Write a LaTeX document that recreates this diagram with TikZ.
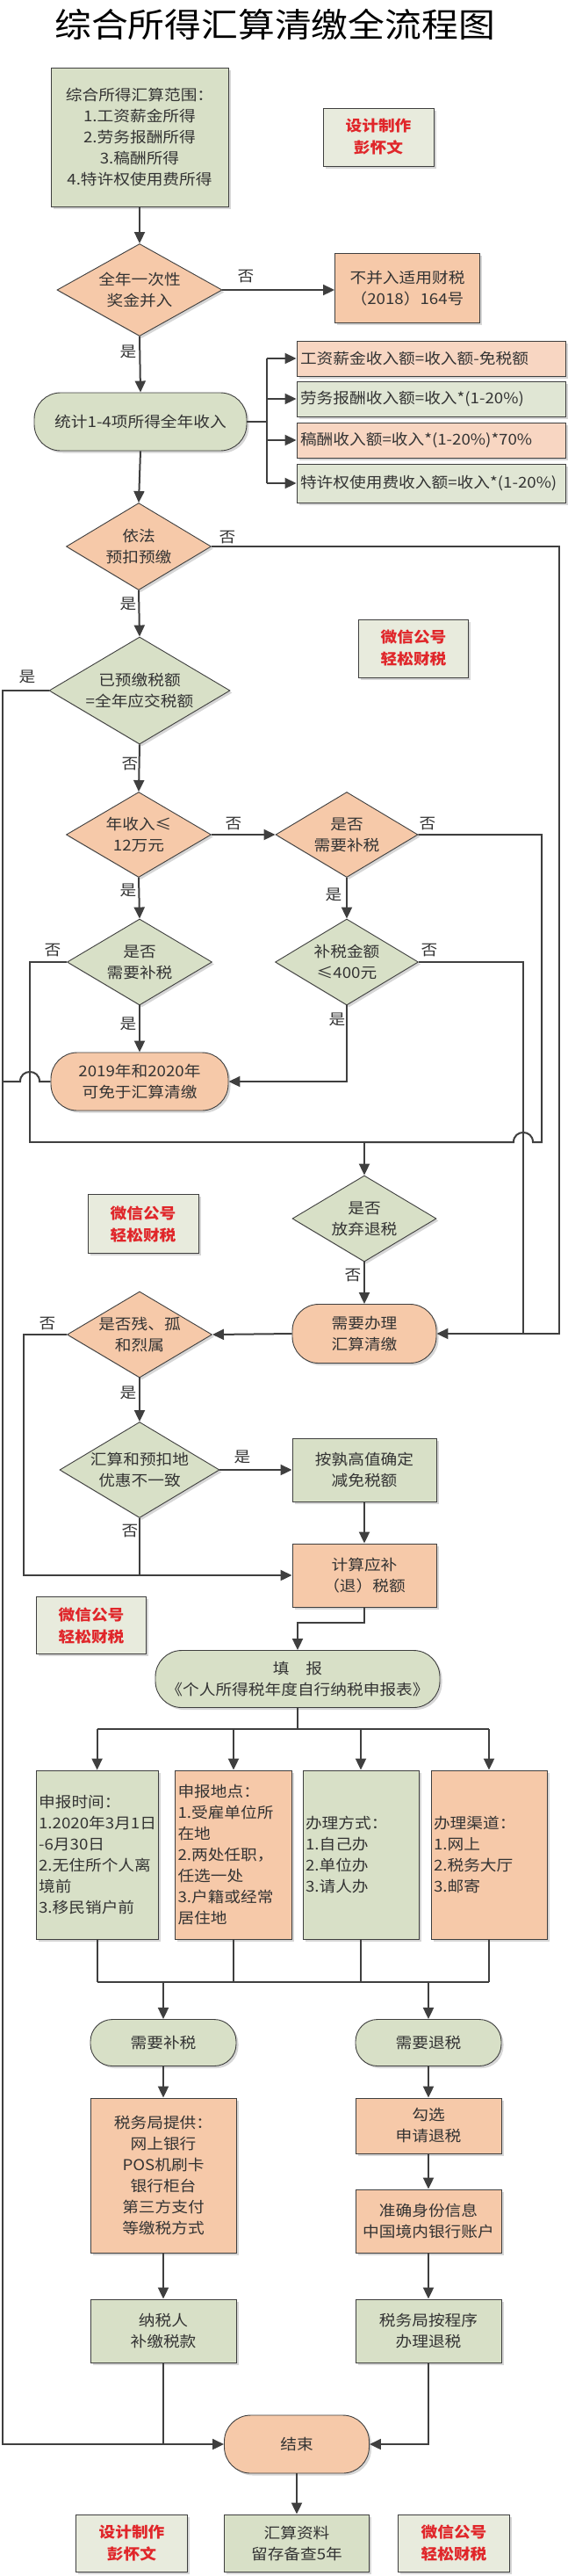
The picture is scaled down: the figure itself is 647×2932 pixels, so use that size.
\documentclass[tikz,border=0pt]{standalone}
\usepackage{fontspec}
\setmainfont{Noto Sans CJK SC}[FakeStretch=1.1]
\usetikzlibrary{shapes.geometric,arrows.meta,shadows}
\definecolor{lc}{HTML}{3F3F3F}
\definecolor{tc}{HTML}{333333}
\definecolor{orf}{HTML}{F6C9A9}
\definecolor{orf2}{HTML}{F8D6C2}
\definecolor{grf}{HTML}{D8E0C7}
\definecolor{grf2}{HTML}{E0E6D4}
\definecolor{wmf}{HTML}{E8EBDD}
\definecolor{wred}{HTML}{E0262A}
\newcommand\fsz{\fontsize{17}{24}\selectfont}
\newcommand\wmfnt{\fontsize{17}{25}\selectfont\bfseries}
\begin{document}
\begin{tikzpicture}[x=1pt,y=-1pt,
  base/.style={draw=lc, line width=0.9pt, inner sep=0pt, align=center, text=tc, font=\fsz},
  sh/.style={drop shadow={shadow xshift=2.5pt,shadow yshift=-2.5pt,opacity=0.16,fill=black}},
  gbox/.style={base, sh, fill=grf},
  obox/.style={base, sh, fill=orf},
  fbox/.style={base, sh, minimum width=306pt, text width=298pt, align=left},
  lbox/.style={base, sh, minimum height=192pt, align=left},
  dia/.style={diamond, draw=lc, line width=0.9pt, inner sep=0pt, sh},
  wm/.style={base, sh, fill=wmf, text=wred, font=\wmfnt},
  lab/.style={font=\fsz, text=tc, inner sep=0pt, align=center},
  ln/.style={draw=lc, line width=2pt},
  conn/.style={ln, -{Triangle[length=13pt,width=12pt]}}]
\useasboundingbox (0,0) rectangle (647,2932);
\fill[white] (0,0) rectangle (647,2932);

% title
\node[font=\fontsize{38}{44}\selectfont, text=black, inner sep=0pt] (title) at (313,28) {综合所得汇算清缴全流程图};

% top
\node[gbox, minimum width=202pt, minimum height=158pt] (range) at (159,156) {综合所得汇算范围：\\1.工资薪金所得\\2.劳务报酬所得\\3.稿酬所得\\4.特许权使用费所得};
\node[wm, minimum width=126pt, minimum height=66pt] (wm1) at (431,156) {设计制作\\彭怀文};

\node[dia, fill=orf, minimum width=188pt, minimum height=105pt] (d1) at (159,330) {};
\node[lab] (d1t) at (d1) {全年一次性\\奖金并入};
\node[obox, minimum width=165pt, minimum height=79pt] (nb) at (464,328) {不并入适用财税\\（2018）164号};

\node[gbox, rounded corners=30pt, minimum width=242pt, minimum height=66pt] (stat) at (160,480) {统计1-4项所得全年收入};

\node[fbox, fill=orf2, minimum height=40pt] (f1) at (491,408) {工资薪金收入额=收入额-免税额};
\node[fbox, fill=grf2, minimum height=40pt] (f2) at (491,454) {劳务报酬收入额=收入*(1-20\%)};
\node[fbox, fill=orf2, minimum height=40pt] (f3) at (491,501) {稿酬收入额=收入*(1-20\%)*70\%};
\node[fbox, fill=grf2, minimum height=44pt] (f4) at (491,550) {特许权使用费收入额=收入*(1-20\%)};

\node[dia, fill=orf, minimum width=165pt, minimum height=99pt] (d2) at (158,622) {};
\node[lab] (d2t) at (d2) {依法\\预扣预缴};
\node[wm, minimum width=125pt, minimum height=66pt] (wm2) at (471,738) {微信公号\\轻松财税};

\node[dia, fill=grf, minimum width=206pt, minimum height=122pt] (d3) at (159,786) {};
\node[lab] (d3t) at (d3) {已预缴税额\\=全年应交税额};

\node[dia, fill=orf, minimum width=165pt, minimum height=97pt] (d4) at (158,950) {};
\node[lab] (d4t) at (d4) {年收入≤\\12万元};
\node[dia, fill=orf, minimum width=162pt, minimum height=97pt] (d5) at (395,950) {};
\node[lab] (d5t) at (d5) {是否\\需要补税};

\node[dia, fill=grf, minimum width=165pt, minimum height=98pt] (d6) at (159,1095) {};
\node[lab] (d6t) at (d6) {是否\\需要补税};
\node[dia, fill=grf, minimum width=163pt, minimum height=98pt] (d7) at (395,1095) {};
\node[lab] (d7t) at (d7) {补税金额\\≤400元};

\node[obox, rounded corners=30pt, minimum width=202pt, minimum height=66pt] (n19) at (159,1231) {2019年和2020年\\可免于汇算清缴};

\node[dia, fill=grf, minimum width=164pt, minimum height=98pt] (d8) at (415,1387) {};
\node[lab] (d8t) at (d8) {是否\\放弃退税};
\node[wm, minimum width=126pt, minimum height=67pt] (wm3) at (163,1393) {微信公号\\轻松财税};

\node[obox, rounded corners=30pt, minimum width=164pt, minimum height=67pt] (need) at (415,1518) {需要办理\\汇算清缴};
\node[dia, fill=orf, minimum width=165pt, minimum height=98pt] (d9) at (159,1519) {};
\node[lab] (d9t) at (d9) {是否残、孤\\和烈属};

\node[dia, fill=grf, minimum width=182pt, minimum height=109pt] (d10) at (159,1673) {};
\node[lab] (d10t) at (d10) {汇算和预扣地\\优惠不一致};
\node[gbox, minimum width=164pt, minimum height=72pt] (max) at (415,1673) {按孰高值确定\\减免税额};

\node[obox, minimum width=164pt, minimum height=72pt] (calc) at (415,1793) {计算应补\\（退）税额};
\node[wm, minimum width=125pt, minimum height=65pt] (wm4) at (104,1850) {微信公号\\轻松财税};

\node[gbox, rounded corners=30pt, minimum width=324pt, minimum height=65pt] (fill) at (339,1911) {填　报\\《个人所得税年度自行纳税申报表》};

\node[lbox, fill=grf, minimum width=139pt, text width=133pt] (ba) at (110.6,2111) {申报时间：\\1.2020年3月1日\\-6月30日\\2.无住所个人离\\境前\\3.移民销户前};
\node[lbox, fill=orf, minimum width=133pt, text width=127pt] (bb) at (266,2111) {申报地点：\\1.受雇单位所\\在地\\2.两处任职，\\任选一处\\3.户籍或经常\\居住地};
\node[lbox, fill=grf, minimum width=132pt, text width=126pt] (bc) at (411,2111) {办理方式：\\1.自己办\\2.单位办\\3.请人办};
\node[lbox, fill=orf, minimum width=132pt, text width=126pt] (bd) at (557,2111) {办理渠道：\\1.网上\\2.税务大厅\\3.邮寄};

\node[gbox, rounded corners=25pt, minimum width=166pt, minimum height=53pt] (bu) at (186,2325) {需要补税};
\node[gbox, rounded corners=25pt, minimum width=166pt, minimum height=53pt] (tui) at (488,2325) {需要退税};

\node[obox, minimum width=166pt, minimum height=176pt] (tax) at (186,2476) {税务局提供：\\网上银行\\POS机刷卡\\银行柜台\\第三方支付\\等缴税方式};
\node[obox, minimum width=166pt, minimum height=63pt] (gou) at (488,2419.5) {勾选\\申请退税};
\node[obox, minimum width=166pt, minimum height=72pt] (zq) at (488,2528) {准确身份信息\\中国境内银行账户};

\node[gbox, minimum width=166pt, minimum height=72pt] (nsr) at (186,2653) {纳税人\\补缴税款};
\node[gbox, minimum width=166pt, minimum height=72pt] (swj) at (488,2653) {税务局按程序\\办理退税};

\node[obox, rounded corners=30pt, minimum width=165pt, minimum height=66pt] (end) at (338,2782) {结束};
\node[gbox, minimum width=165pt, minimum height=65pt] (keep) at (338,2894.5) {汇算资料\\留存备查5年};
\node[wm, minimum width=127pt, minimum height=65pt] (wm5) at (150,2894.5) {设计制作\\彭怀文};
\node[wm, minimum width=127pt, minimum height=65pt] (wm6) at (517,2894.5) {微信公号\\轻松财税};

% coordinates
\coordinate (tr) at (304,480);
\coordinate (m1) at (637,1518);
\coordinate (m2) at (596,1518);
\coordinate (r5) at (617,1300);
\coordinate (l6) at (34,1300);
\coordinate (jn) at (415,1300);
\coordinate (L) at (3,2782);
\coordinate (l9) at (27,1793);
\coordinate (fb) at (339,1968);
\coordinate (mb) at (339,2256);

% connectors
\draw[conn] (range.south) -- (d1.north);
\draw[conn] (d1.east) -- (d1.east -| nb.west);
\draw[conn] (d1.south) -- (stat.north);
\draw[ln] (stat.east) -- (tr);
\draw[ln] (f1.west -| tr) -- (f4.west -| tr);
\draw[conn] (f1.west -| tr) -- (f1.west);
\draw[conn] (f2.west -| tr) -- (f2.west);
\draw[conn] (f3.west -| tr) -- (f3.west);
\draw[conn] (f4.west -| tr) -- (f4.west);
\draw[conn] (stat.south) -- (d2.north);
\draw[conn] (d2.east) -| (m1) -- (need.east);
\draw[conn] (d2.south) -- (d3.north);
\draw[conn] (d3.west) -| (L) -- (end.west);
\draw[conn] (d3.south) -- (d4.north);
\draw[conn] (d4.east) -- (d5.west);
\draw[conn] (d4.south) -- (d6.north);
\draw[conn] (d5.south) -- (d7.north);
\draw[ln] (d5.east) -| (r5) -- (607,1300) .. controls (607,1285.3) and (585,1285.3) .. (585,1300) -- (jn);
\draw[ln] (d6.west) -| (l6) -- (jn);
\draw[ln] (d7.east) -| (m2);
\draw[conn] (d6.south) -- (n19.north);
\draw[conn] (d7.south) |- (n19.east);
\draw[ln] (n19.west) -- (45,1231) .. controls (45,1216.3) and (23,1216.3) .. (23,1231) -- (3,1231);
\draw[conn] (jn) -- (d8.north);
\draw[conn] (d8.south) -- (need.north);
\draw[conn] (need.west) -- (d9.east);
\draw[conn] (d9.west) -| (l9) -- (calc.west);
\draw[conn] (d9.south) -- (d10.north);
\draw[conn] (d10.east) -- (max.west);
\draw[ln] (d10.south) -- (d10.south |- l9);
\draw[conn] (max.south) -- (calc.north);
\draw[conn] (calc.south) -- ++(0,18) -| (fill.north);
\draw[ln] (fill.south) -- (fb);
\draw[ln] (ba.north |- fb) -- (bd.north |- fb);
\draw[conn] (ba.north |- fb) -- (ba.north);
\draw[conn] (bb.north |- fb) -- (bb.north);
\draw[conn] (bc.north |- fb) -- (bc.north);
\draw[conn] (bd.north |- fb) -- (bd.north);
\draw[ln] (ba.south) -- (ba.south |- mb);
\draw[ln] (bb.south) -- (bb.south |- mb);
\draw[ln] (bc.south) -- (bc.south |- mb);
\draw[ln] (bd.south) -- (bd.south |- mb);
\draw[ln] (ba.south |- mb) -- (bd.south |- mb);
\draw[conn] (bu.north |- mb) -- (bu.north);
\draw[conn] (tui.north |- mb) -- (tui.north);
\draw[conn] (bu.south) -- (tax.north);
\draw[conn] (tui.south) -- (gou.north);
\draw[conn] (gou.south) -- (zq.north);
\draw[conn] (tax.south) -- (nsr.north);
\draw[conn] (zq.south) -- (swj.north);
\draw[ln] (nsr.south) -- (nsr.south |- L);
\draw[conn] (swj.south) |- (end.east);
\draw[conn] (end.south) -- (keep.north);

% labels
\node[lab] (y1) at (146,400) {是};
\node[lab] (n1) at (280,315) {否};
\node[lab] (n2) at (259,612) {否};
\node[lab] (y2) at (146,687) {是};
\node[lab] (y3) at (31,770) {是};
\node[lab] (n3) at (148,870) {否};
\node[lab] (n4) at (266,938) {否};
\node[lab] (n5) at (487,938) {否};
\node[lab] (y4) at (146,1013) {是};
\node[lab] (y5) at (380,1018) {是};
\node[lab] (n6) at (60,1082) {否};
\node[lab] (y6) at (146,1165) {是};
\node[lab] (n7) at (489,1082) {否};
\node[lab] (y7) at (384,1160) {是};
\node[lab] (n8) at (402,1452) {否};
\node[lab] (n9) at (54,1507) {否};
\node[lab] (y9) at (146,1585) {是};
\node[lab] (y10) at (276,1658) {是};
\node[lab] (n10) at (148,1743) {否};
\end{tikzpicture}
\end{document}
